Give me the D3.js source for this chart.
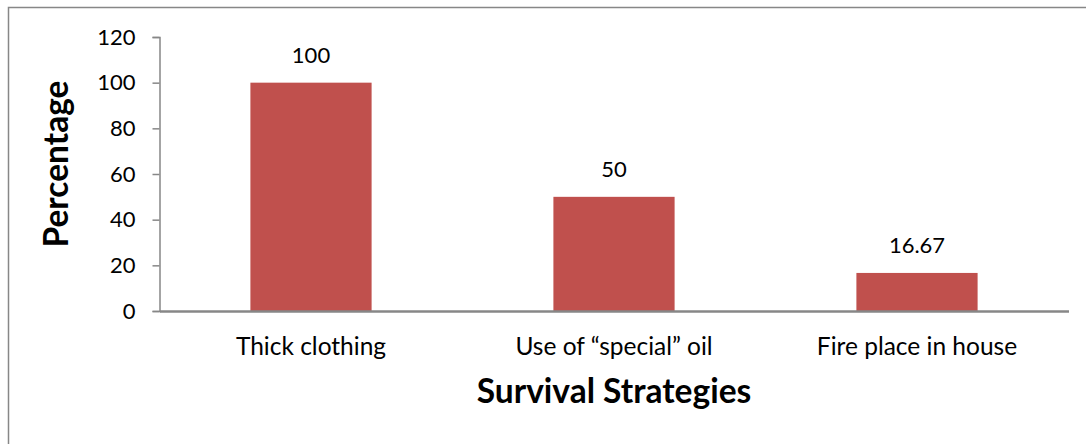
<!DOCTYPE html>
<html><head><meta charset="utf-8">
<script src="https://cdn.jsdelivr.net/npm/d3@7"></script>
<style>body{margin:0;background:#fff}svg{display:block}text{font-family:Lato,"Open Sans",sans-serif;fill:#000}</style>
</head><body>
<svg id="c" width="1086" height="444"></svg>
<script>
const categories = ["Thick clothing", "Use of \u201cspecial\u201d oil", "Fire place in house"];
const values = [100, 50, 16.67];
const valueLabels = ["100", "50", "16.67"];
const yTicks = [0, 20, 40, 60, 80, 100, 120];
const xTitle = "Survival Strategies";
const yTitle = "Percentage";

(function () {
const svg = d3.select("#c");
svg.append("rect").attr("x", 8.5).attr("y", 7.5).attr("width", 1090).attr("height", 450)
  .attr("fill", "none").attr("stroke", "#878787").attr("stroke-width", 1.5);

const pL = 159.5, pR = 1068.5, pT = 37, pB = 311;
const x = d3.scaleBand().domain(categories).range([pL, pR]).paddingInner(0.6).paddingOuter(0.3);
const y = d3.scaleLinear().domain([0, 120]).range([pB, pT]);

svg.append("g").selectAll("rect").data(values).join("rect")
  .attr("x", (d, i) => x(categories[i]))
  .attr("width", x.bandwidth())
  .attr("y", d => y(d))
  .attr("height", d => y(0) - y(d))
  .attr("fill", "#C0504D");

const ya = svg.append("g").attr("transform", `translate(${pL},0)`)
  .call(d3.axisLeft(y).tickValues(yTicks).tickSize(7).tickPadding(17));
ya.select(".domain").attr("stroke", "#878787").attr("stroke-width", 1.5);
ya.selectAll(".tick line").attr("stroke", "#878787").attr("stroke-width", 1.5);
ya.selectAll(".tick text").attr("font-size", 22).attr("font-family", "Lato").attr("fill", "#000");

const xa = svg.append("g").attr("transform", `translate(0,${pB})`)
  .call(d3.axisBottom(x).tickSize(0).tickPadding(27));
xa.select(".domain").attr("stroke", "#878787").attr("stroke-width", 2.5);
xa.selectAll(".tick text").attr("font-size", 24.5).attr("font-family", "Lato").attr("fill", "#000");

svg.append("g").selectAll("text").data(values).join("text")
  .attr("x", (d, i) => x(categories[i]) + x.bandwidth() / 2)
  .attr("y", d => y(d) - 20)
  .attr("text-anchor", "middle").attr("font-size", 22)
  .text((d, i) => valueLabels[i]);

svg.append("text").attr("x", (pL + pR) / 2).attr("y", 403)
  .attr("text-anchor", "middle").attr("font-size", 33.5).attr("font-weight", "bold").text(xTitle);

svg.append("text").attr("transform", `translate(68,164) rotate(-90)`)
  .attr("text-anchor", "middle").attr("font-size", 33.5).attr("font-weight", "bold").text(yTitle);
})();
</script>
</body></html>
